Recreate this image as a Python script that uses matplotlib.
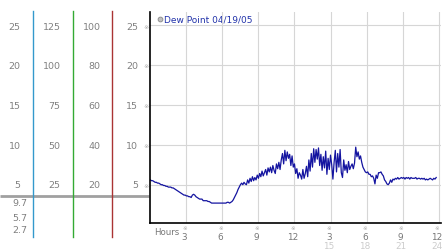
import numpy as np
import matplotlib
matplotlib.use("Agg")
import matplotlib.pyplot as plt

# dew point readings, every 0.1 h starting at midnight
dew = [
    5.6, 5.5, 5.5, 5.4, 5.3, 5.3, 5.2, 5.2, 5.1, 5.0,
    5.0, 4.9, 4.9, 4.8, 4.8, 4.7, 4.7, 4.7, 4.6, 4.6,
    4.5, 4.4, 4.3, 4.2, 4.1, 4.0, 3.9, 3.8, 3.7, 3.7,
    3.6, 3.6, 3.5, 3.5, 3.4, 3.7, 3.8, 3.7, 3.5, 3.4,
    3.3, 3.2, 3.2, 3.2, 3.0, 3.0, 3.0, 3.0, 2.9, 2.9,
    2.8, 2.7, 2.7, 2.7, 2.7, 2.7, 2.7, 2.7, 2.7, 2.7,
    2.7, 2.7, 2.7, 2.7, 2.8, 2.8, 2.7, 2.8, 2.9, 3.1,
    3.4, 3.7, 4.0, 4.4, 4.7, 5.0, 5.2, 5.0, 5.3, 5.1,
    5.0, 5.6, 5.2, 5.8, 5.4, 6.0, 5.5, 5.9, 5.6, 6.2,
    5.8, 6.4, 6.0, 6.7, 6.1, 6.5, 6.9, 6.2, 7.1, 6.6,
    7.2, 6.5, 7.4, 6.8, 6.4, 7.6, 7.0, 7.8, 6.9, 8.1,
    8.9, 7.6, 9.3, 8.0, 9.1, 8.3, 8.8, 7.4, 8.6, 7.2,
    7.6, 6.4, 7.0, 5.8, 6.5, 6.2, 5.7, 6.9, 5.8, 6.4,
    7.3, 6.0, 8.1, 6.7, 8.9, 7.2, 9.5, 7.8, 9.4, 8.2,
    9.6, 7.4, 8.8, 6.8, 8.5, 7.1, 9.2, 6.3, 8.3, 6.9,
    8.7, 7.5, 5.7, 7.8, 9.3, 6.6, 8.9, 7.2, 9.4, 6.5,
    5.9, 8.1, 6.8, 7.5, 6.5, 7.9, 6.9, 7.3, 7.6, 7.0,
    7.7, 9.7, 8.5, 9.1, 8.2, 8.6, 7.8, 7.2, 6.9, 6.6,
    6.5, 6.6, 6.3, 6.3, 6.0, 6.1, 5.8, 5.1, 6.2, 5.8,
    6.5, 6.5, 6.6, 6.3, 6.1, 5.6, 5.4, 5.1, 5.0, 5.2,
    5.6, 5.3, 5.7, 5.6, 5.8, 5.7, 5.9, 5.7, 5.8, 5.9,
    5.8, 5.9, 5.7, 5.9, 5.8, 5.9, 5.7, 5.9, 5.8, 5.8,
    5.8, 5.9, 5.7, 5.8, 5.8, 5.7, 5.8, 5.7, 5.8, 5.6,
    5.7, 5.6, 5.7, 5.8, 5.7, 5.6, 5.8, 5.7, 5.9,
]
hours = np.arange(len(dew)) * 0.1

y_ticks = [5, 10, 15, 20, 25]
x_ticks = [3, 6, 9, 12, 15, 18, 21, 24]
x_labels = ["3", "6", "9", "12", "3", "6", "9", "12"]
x_labels_24 = ["", "", "", "", "15", "18", "21", "24"]

# left side scale columns
col1 = ["25", "20", "15", "10", "5"]
col2 = ["125", "100", "75", "50", "25"]
col3 = ["100", "80", "60", "40", "20"]
col4 = ["25", "20", "15", "10", "5"]
low_vals = ["9.7", "5.7", "2.7"]

W, H = 442, 253
fig = plt.figure(figsize=(W / 100, H / 100), dpi=100)

# background axes in pixel units for the left panel decorations
bg = fig.add_axes([0, 0, 1, 1])
bg.set_xlim(0, W)
bg.set_ylim(H, 0)
bg.axis("off")

tick_y = [27, 66.7, 106.5, 146.2, 186]  # pixel rows of 25..5
grey = "#808080"
for ypix, a, b, c, d in zip(tick_y, col1, col2, col3, col4):
    bg.text(20.5, ypix, a, ha="right", va="center", fontsize=6.8, color=grey)
    bg.text(60.5, ypix, b, ha="right", va="center", fontsize=6.8, color=grey)
    bg.text(100.5, ypix, c, ha="right", va="center", fontsize=6.8, color=grey)
    bg.text(138, ypix, d, ha="right", va="center", fontsize=6.8, color=grey)
    bg.text(146, ypix, "※", ha="center", va="center", fontsize=4.5, color="#aaaaaa")
for ypix, v in zip([204, 218.5, 231], low_vals):
    bg.text(27.5, ypix, v, ha="right", va="center", fontsize=6.8, color=grey)

bg.plot([0, 149], [197, 197], color="#a0a0a0", lw=2, solid_capstyle="butt")
bg.plot([33, 33], [12, 238], color="#3399cc", lw=1)
bg.plot([72.5, 72.5], [12, 238], color="#33aa33", lw=1)
bg.plot([111.5, 111.5], [12, 238], color="#aa3333", lw=1)

# main plot
ax = fig.add_axes([149.5 / W, (H - 224) / H, (441 - 149.5) / W, (224 - 13) / H])
ax.patch.set_alpha(0)
ax.plot(hours, dew, color="#1414a0", lw=0.9)
ax.set_xlim(-0.07, 24.2)
ax.set_ylim(0.21, 26.6)
ax.set_xticks(x_ticks)
ax.set_yticks(y_ticks)
ax.tick_params(length=0, labelbottom=False, labelleft=False)
ax.grid(True, color="#d6d6d6", lw=0.8)
ax.set_axisbelow(True)
for s in ["top", "right"]:
    ax.spines[s].set_visible(False)
for s in ["left", "bottom"]:
    ax.spines[s].set_color("black")
    ax.spines[s].set_linewidth(1.2)

tr = ax.get_xaxis_transform()
ax.text(0.3, -0.038, "Hours", transform=tr, ha="left", va="center", fontsize=6.2, color="#777777")
for xv, lab, lab2 in zip(x_ticks, x_labels, x_labels_24):
    ax.text(xv - 0.15, -0.022, "※", transform=tr, ha="center", va="center", fontsize=4, color="#aaaaaa")
    ax.text(xv - 0.15, -0.063, lab, transform=tr, ha="center", va="center", fontsize=6.4, color="#777777")
    if lab2:
        ax.text(xv - 0.15, -0.106, lab2, transform=tr, ha="center", va="center", fontsize=6.4, color="#cccccc")

# legend entry
bg.scatter([160], [20], s=12, color="#c0c0c0", edgecolor="#888888", linewidths=0.6)
bg.text(164.5, 20, "Dew Point 04/19/05", ha="left", va="center", fontsize=6.5, color="#2233aa")

fig.savefig("out.png", dpi=100)
